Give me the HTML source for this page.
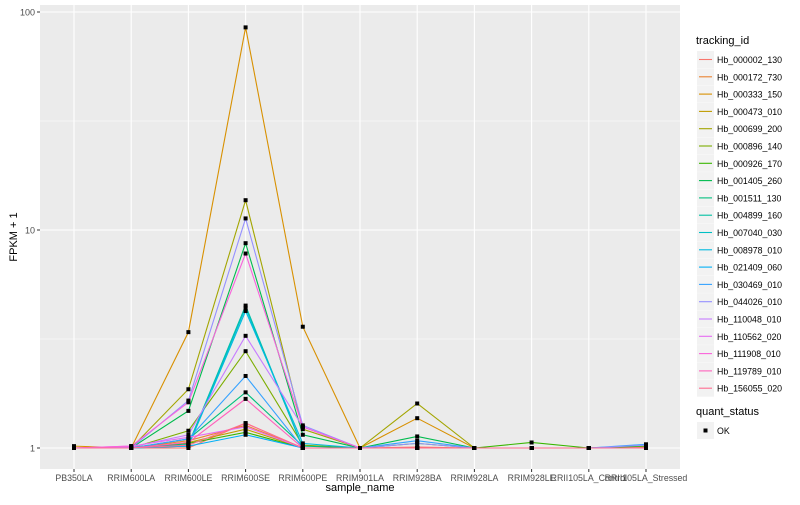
<!DOCTYPE html>
<html><head><meta charset="utf-8"><style>
body{margin:0;background:#fff;font-family:"Liberation Sans",sans-serif}
svg text{font-family:"Liberation Sans",sans-serif}
</style></head><body>
<svg id="chart" width="800" height="500"></svg>
<script>
const categories=["PB350LA","RRIM600LA","RRIM600LE","RRIM600SE","RRIM600PE","RRIM901LA","RRIM928BA","RRIM928LA","RRIM928LE","RRII105LA_Control","RRII105LA_Stressed"];
const seriesNames=["Hb_000002_130","Hb_000172_730","Hb_000333_150","Hb_000473_010","Hb_000699_200","Hb_000896_140","Hb_000926_170","Hb_001405_260","Hb_001511_130","Hb_004899_160","Hb_007040_030","Hb_008978_010","Hb_021409_060","Hb_030469_010","Hb_044026_010","Hb_110048_010","Hb_110562_020","Hb_111908_010","Hb_119789_010","Hb_156055_020"];
const colors=["#F8766D","#EA8331","#D89000","#C09B00","#A3A500","#7CAE00","#39B600","#00BB4E","#00BF7D","#00C1A3","#00BFC4","#00BAE0","#00B0F6","#35A2FF","#9590FF","#C77CFF","#E76BF3","#FA62DB","#FF62BC","#FF6C91"];
const s0=[1,1,1,1.3,1,1,1.01,1,1,1,1.01];
const s1=[1,1,1.08,1.27,1,1,1,1,1,1,1];
const s2=[1.02,1,3.4,85,3.6,1,1.37,1,1,1,1];
const s3=[1,1,1.06,1.22,1,1,1,1,1,1,1];
const s4=[1,1,1.86,13.7,1.22,1,1.6,1,1,1,1];
const s5=[1,1,1.2,2.78,1.03,1,1,1,1,1,1];
const s6=[1,1,1.05,1.18,1,1,1.05,1,1.06,1,1.02];
const s7=[1,1,1.48,8.7,1.15,1,1.13,1,1,1,1];
const s8=[1,1,1.1,1.8,1.02,1,1,1,1,1,1];
const s9=[1,1,1.04,4.5,1,1,1,1,1,1,1];
const s10=[1,1,1.03,4.4,1,1,1,1,1,1,1];
const s11=[1,1,1.02,4.25,1.05,1,1,1,1,1,1];
const s12=[1,1,1.02,1.15,1,1,1,1,1,1,1];
const s13=[1,1,1.1,2.14,1,1,1.08,1,1,1,1.04];
const s14=[1,1,1.65,11.3,1.27,1,1.05,1,1,1,1.03];
const s15=[1,1.01,1.15,3.27,1.25,1,1,1,1,1,1];
const s16=[1,1.02,1.12,1.25,1,1,1,1,1,1,1];
const s17=[1,1.02,1.62,7.8,1.25,1,1,1,1,1,1];
const s18=[1,1,1.06,1.68,1,1,1,1,1,1,1];
const s19=[1,1,1.03,1.3,1,1,1,1,1,1,1];
const allSeries=[s0,s1,s2,s3,s4,s5,s6,s7,s8,s9,s10,s11,s12,s13,s14,s15,s16,s17,s18,s19];
const yTicks=[1,10,100];
const yTickLabels=["1","10","100"];

const NS="http://www.w3.org/2000/svg";
const svg=document.getElementById('chart');
const L=40,R=680,T=5,B=469;
const x=i=>74+i*57.2;
const y=v=>448-218*Math.log10(v);
function mk(tag,attrs,parent){const e=document.createElementNS(NS,tag);for(const k in attrs)e.setAttribute(k,attrs[k]);(parent||svg).appendChild(e);return e;}
const panel=mk('rect',{x:L,y:T,width:R-L,height:B-T,fill:'#EBEBEB'});


[0.5,1.5].forEach(m=>{const g=mk('line',{x1:L,x2:R,y1:448-218*m,y2:448-218*m,stroke:'#fff','stroke-width':0.55});

});
yTicks.forEach((t,i)=>{
const g=mk('line',{x1:L,x2:R,y1:y(t),y2:y(t),stroke:'#fff','stroke-width':1.1});


const tk=mk('line',{x1:L-3,x2:L,y1:y(t),y2:y(t),stroke:'#333','stroke-width':1});


const tx=mk('text',{x:L-5,y:y(t)+3.5,'text-anchor':'end','font-size':9,fill:'#4d4d4d'});tx.textContent=yTickLabels[i];


});
categories.forEach((c,i)=>{
const g=mk('line',{x1:x(i),x2:x(i),y1:T,y2:B,stroke:'#fff','stroke-width':1.1});


const tk=mk('line',{x1:x(i),x2:x(i),y1:B,y2:B+3,stroke:'#333','stroke-width':1});


const tx=mk('text',{x:x(i),y:B+12,'text-anchor':'middle','font-size':8.8,fill:'#4d4d4d'});tx.textContent=c;


});
allSeries.forEach((s,k)=>{
const p=mk('polyline',{points:s.map((v,i)=>x(i)+','+y(v)).join(' '),fill:'none',stroke:colors[k],'stroke-width':1.1});


});
allSeries.forEach((s,k)=>{s.forEach((v,i)=>{
const r=mk('rect',{x:x(i)-2,y:y(v)-2,width:4,height:4,fill:'#000'});


});});
const xt=mk('text',{x:(L+R)/2,y:491,'text-anchor':'middle','font-size':11,fill:'#000'});xt.textContent='sample_name';


const yt=mk('text',{x:0,y:0,'text-anchor':'middle','font-size':11,fill:'#000',transform:'translate(17,237) rotate(-90)'});yt.textContent='FPKM + 1';


const lt=mk('text',{x:696,y:44,'font-size':11,fill:'#000'});lt.textContent='tracking_id';


seriesNames.forEach((n,k)=>{
const yy=51+k*17.3;
const bg=mk('rect',{x:697,y:yy,width:17,height:17,fill:'#F2F2F2'});


const ln=mk('line',{x1:699,x2:712,y1:yy+8.5,y2:yy+8.5,stroke:colors[k],'stroke-width':1.1});


const tx=mk('text',{x:717,y:yy+12,'font-size':8.8,fill:'#000'});tx.textContent=n;


});
const qt=mk('text',{x:696,y:415,'font-size':11,fill:'#000'});qt.textContent='quant_status';


const qb=mk('rect',{x:697,y:422,width:17,height:17,fill:'#F2F2F2'});


const qs=mk('rect',{x:703.5,y:428.5,width:4,height:4,fill:'#000'});


const qx=mk('text',{x:717,y:434,'font-size':8.8,fill:'#000'});qx.textContent='OK';


</script>
</body></html>
